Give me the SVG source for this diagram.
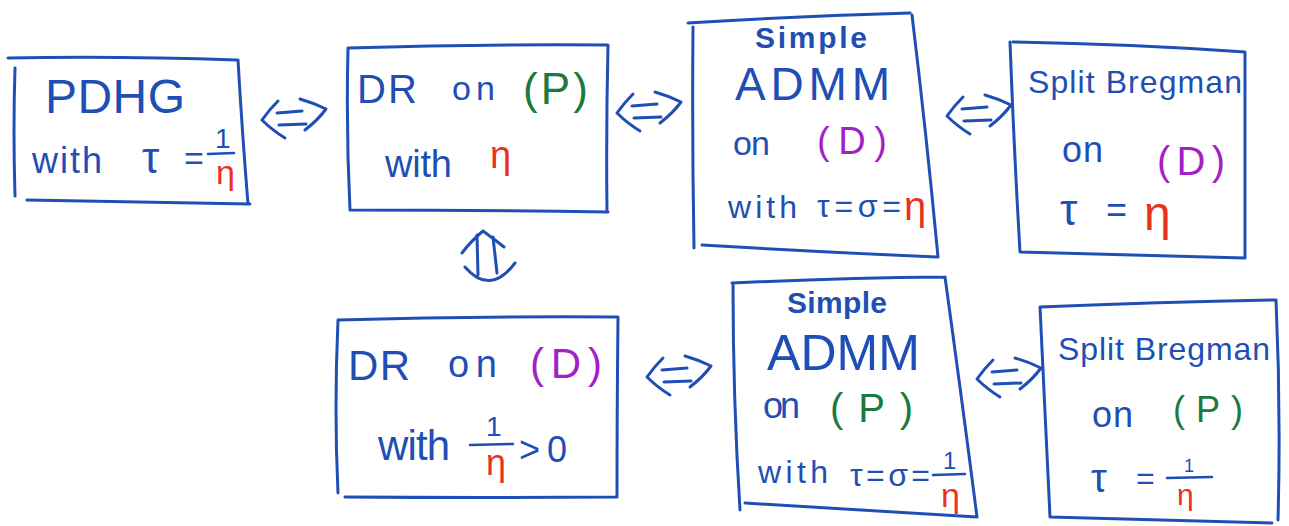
<svg xmlns="http://www.w3.org/2000/svg" width="1289" height="526" viewBox="0 0 1289 526">
  <style>
    .box { fill: none; stroke: #1f4fb4; stroke-width: 3; stroke-linecap: round; stroke-linejoin: round; }
    .pen { fill: none; stroke: #1f4fb4; stroke-width: 3; stroke-linecap: round; stroke-linejoin: round; }
    .bar { stroke: #1f4fb4; stroke-width: 2.5; stroke-linecap: round; }
    text { font-family: "Liberation Sans", Arial, sans-serif; }
    .b { fill: #1f4fb4; }
    .r { fill: #e8321e; }
    .g { fill: #1b7a3c; }
    .p { fill: #a31fc6; }
    .hb { font-weight: bold; }
  </style>
  <defs>
    <!-- hand-drawn "if and only if" double arrow, about 65 x 38 -->
    <g id="iff">
      <path class="pen" d="M16 1 Q7 10 0 20 Q10 30 23 38"/>
      <path class="pen" d="M15 13 L40 11"/>
      <path class="pen" d="M17 25 L44 24"/>
      <path class="pen" d="M38 -1 Q52 3 64 9 Q56 20 43 30"/>
    </g>
  </defs>

  <rect width="1289" height="526" fill="#ffffff"/>

  <!-- connectors -->
  <g id="connectors">
    <use href="#iff" x="262" y="100"/>
    <use href="#iff" x="617" y="93"/>
    <use href="#iff" x="947" y="96"/>
    <use href="#iff" x="647" y="357"/>
    <use href="#iff" x="977" y="359"/>
    <!-- vertical equivalence between the two DR nodes -->
    <g id="iff-vertical">
      <path class="pen" d="M477 235 L478 275"/>
      <path class="pen" d="M493 237 L497 273"/>
      <path class="pen" d="M462 253 Q471 241 483 231 Q494 239 504 247"/>
      <path class="pen" d="M465 267 Q490 296 515 263"/>
    </g>
  </g>

  <!-- PDHG -->
  <g id="pdhg">
    <path class="box" d="M8 58 Q120 56 237 60 M238 60 Q242 130 248 204 M250 204 Q140 202 27 200 M15 196 Q13 130 15 68"/>
    <text class="b" x="45" y="113" font-size="48" textLength="140">PDHG</text>
    <text class="b" x="32" y="173" font-size="36" textLength="70">with</text>
    <text class="b" x="142" y="173" font-size="44">τ</text>
    <text class="b" x="184" y="170" font-size="34">=</text>
    <text class="b" x="215" y="148" font-size="28">1</text>
    <line class="bar" x1="208" y1="154" x2="234" y2="153"/>
    <text class="r" x="216" y="184" font-size="34">η</text>
  </g>

  <!-- DR on (P) -->
  <g id="dr-primal">
    <path class="box" d="M348 48 Q480 44 608 45 M608 45 Q606 130 607 212 M608 212 Q480 210 350 210 M350 210 Q346 130 348 48"/>
    <text class="b" x="357" y="103" font-size="40" textLength="60">DR</text>
    <text class="b" x="452" y="100" font-size="34" textLength="43">on</text>
    <text class="g" x="523" y="104" font-size="44" textLength="65">(P)</text>
    <text class="b" x="385" y="177" font-size="38" textLength="67">with</text>
    <text class="r" x="490" y="168" font-size="38">η</text>
  </g>

  <!-- Simple ADMM on (D) -->
  <g id="admm-dual">
    <path class="box" d="M688 23 Q800 16 910 13 M912 15 Q926 130 938 257 M937 257 Q820 252 702 245 M694 248 Q692 140 693 27"/>
    <text class="b hb" x="755" y="48" font-size="30" textLength="112">Simple</text>
    <text class="b" x="735" y="100" font-size="46" textLength="155">ADMM</text>
    <text class="b" x="733" y="155" font-size="34" textLength="37">on</text>
    <text class="p" x="817" y="154" font-size="38" textLength="70">(D)</text>
    <text class="b" x="728" y="218" font-size="32" textLength="69">with</text>
    <text class="b" x="817" y="217" font-size="32" textLength="84">τ=σ=</text>
    <text class="r" x="904" y="220" font-size="40">η</text>
  </g>

  <!-- Split Bregman on (D) -->
  <g id="bregman-dual">
    <path class="box" d="M1013 42 Q1130 44 1245 52 M1245 52 Q1245 150 1245 258 M1245 258 Q1130 255 1020 252 M1020 252 Q1014 150 1010 42"/>
    <text class="b" x="1028" y="93" font-size="32" textLength="214">Split Bregman</text>
    <text class="b" x="1062" y="162" font-size="36" textLength="41">on</text>
    <text class="p" x="1157" y="175" font-size="40" textLength="68">(D)</text>
    <text class="b" x="1060" y="225" font-size="44">τ</text>
    <text class="b" x="1106" y="222" font-size="36">=</text>
    <text class="r" x="1144" y="230" font-size="48">η</text>
  </g>

  <!-- DR on (D) -->
  <g id="dr-dual">
    <path class="box" d="M338 320 Q480 316 618 317 M618 317 Q617 410 617 497 M617 497 Q480 498 345 497 M338 493 Q334 410 338 320"/>
    <text class="b" x="348" y="380" font-size="42" textLength="62">DR</text>
    <text class="b" x="448" y="377" font-size="38" textLength="49">on</text>
    <text class="p" x="530" y="378" font-size="42" textLength="72">(D)</text>
    <text class="b" x="378" y="460" font-size="42" textLength="72">with</text>
    <text class="b" x="486" y="436" font-size="28">1</text>
    <line class="bar" x1="470" y1="445" x2="513" y2="444"/>
    <text class="r" x="486" y="475" font-size="36">η</text>
    <text class="b" x="519" y="462" font-size="36" textLength="48">&gt;0</text>
  </g>

  <!-- Simple ADMM on (P) -->
  <g id="admm-primal">
    <path class="box" d="M732 283 Q840 278 945 277 M945 277 Q962 400 977 517 M977 517 Q860 510 745 503 M740 510 Q733 400 733 283"/>
    <text class="b hb" x="787" y="313" font-size="30" textLength="100">Simple</text>
    <text class="b" x="767" y="370" font-size="50" textLength="153">ADMM</text>
    <text class="b" x="763" y="418" font-size="36" textLength="37">on</text>
    <text class="g" x="830" y="422" font-size="40" textLength="83">(P)</text>
    <text class="b" x="758" y="483" font-size="32" textLength="70">with</text>
    <text class="b" x="850" y="486" font-size="32" textLength="80">τ=σ=</text>
    <text class="b" x="943" y="469" font-size="24">1</text>
    <line class="bar" x1="933" y1="475" x2="965" y2="474"/>
    <text class="r" x="941" y="507" font-size="34">η</text>
  </g>

  <!-- Split Bregman on (P) -->
  <g id="bregman-primal">
    <path class="box" d="M1040 307 Q1160 302 1275 300 M1276 300 Q1281 410 1278 520 M1272 523 Q1160 520 1050 517 M1050 517 Q1045 410 1040 307"/>
    <text class="b" x="1058" y="360" font-size="32" textLength="212">Split Bregman</text>
    <text class="b" x="1092" y="427" font-size="36" textLength="41">on</text>
    <text class="g" x="1173" y="422" font-size="36" textLength="70">(P)</text>
    <text class="b" x="1091" y="492" font-size="40">τ</text>
    <text class="b" x="1136" y="489" font-size="32">=</text>
    <text class="b" x="1184" y="472" font-size="18">1</text>
    <line class="bar" x1="1167" y1="478" x2="1212" y2="477"/>
    <text class="r" x="1177" y="505" font-size="30">η</text>
  </g>
</svg>
